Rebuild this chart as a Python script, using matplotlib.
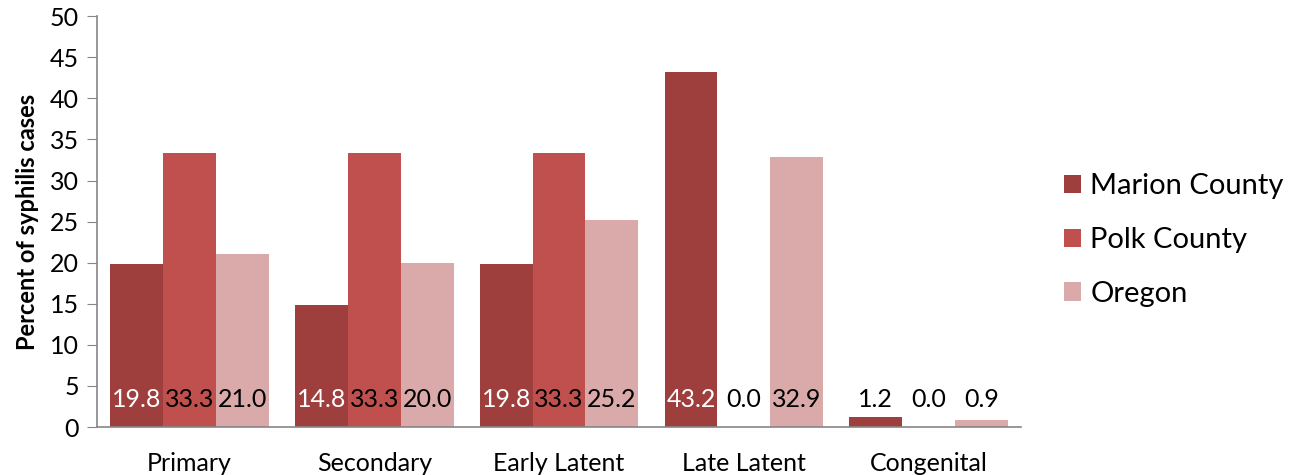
import numpy as np
import matplotlib
matplotlib.use("Agg")
import matplotlib.pyplot as plt

categories = ["Primary", "Secondary", "Early Latent", "Late Latent", "Congenital"]
marion = [19.8, 14.8, 19.8, 43.2, 1.2]
polk = [33.3, 33.3, 33.3, 0.0, 0.0]
oregon = [21.0, 20.0, 25.2, 32.9, 0.9]
series_names = ["Marion County", "Polk County", "Oregon"]

colors = ["#9E3F3E", "#C0504D", "#DAAAAA"]
label_colors = ["white", "black", "black"]

plt.rcParams["font.family"] = ["Lato", "DejaVu Sans"]

fig = plt.figure(figsize=(12.99, 4.75), dpi=100)
ax = fig.add_axes([0.0747, 0.101, 0.7113, 0.865])

x = np.arange(len(categories))
width = 0.286
for i, (vals, name) in enumerate(zip([marion, polk, oregon], series_names)):
    pos = x + (i - 1) * width
    ax.bar(pos, vals, width=width, color=colors[i], label=name)
    for px, v in zip(pos, vals):
        ax.text(px, 3.3, f"{v:.1f}", ha="center", va="center",
                fontsize=18, color=label_colors[i] if v > 5 else "black")

ax.set_xlim(-0.5, len(categories) - 0.5)
ax.set_ylim(0, 50)
ax.set_yticks(np.arange(0, 51, 5))
ax.set_xticks(x)
ax.set_xticklabels(categories, fontsize=18)
ax.tick_params(axis="y", labelsize=18, length=7, color="#868686", pad=6)
ax.tick_params(axis="x", length=0, pad=18)
ax.set_ylabel("Percent of syphilis cases", fontsize=17, fontweight="bold", labelpad=8)

for s in ["top", "right"]:
    ax.spines[s].set_visible(False)
for s in ["left", "bottom"]:
    ax.spines[s].set_color("#868686")
    ax.spines[s].set_linewidth(1.2)

ax.legend(loc="center left", bbox_to_anchor=(1.018, 0.455), frameon=False,
          fontsize=21, handlelength=0.6, handleheight=0.6, handletextpad=0.3,
          labelspacing=0.95)

fig.savefig("out.png", dpi=100)
